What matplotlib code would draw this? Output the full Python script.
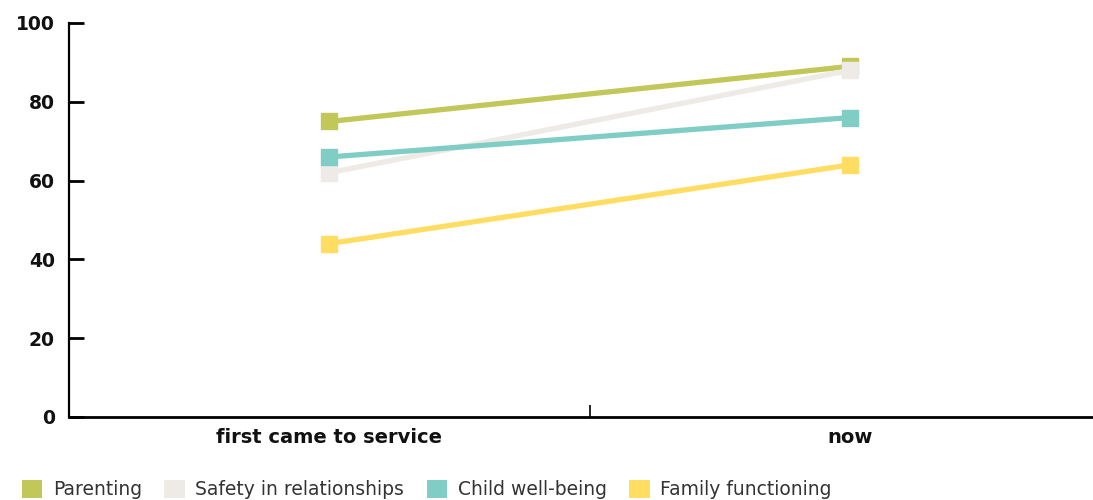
import matplotlib
matplotlib.use("Agg")
import matplotlib.pyplot as plt
from matplotlib.patches import Patch

# dados
periodos = ["first came to service", "now"]
series = ["Parenting", "Safety in relationships", "Child well-being", "Family functioning"]
parenting = [75, 89]
safety = [62, 88]
child = [66, 76]
family = [44, 64]
cores = ["#c2c75a", "#eeeae6", "#80cdc5", "#ffdd63"]

plt.rcParams["font.family"] = ["DejaVu Sans"]

fig = plt.figure(figsize=(10.93, 5), dpi=100)
# o eixo passa da borda direita da figura (como no original)
ax = fig.add_axes([0.063, 0.166, 0.953, 0.788])

x = list(range(len(periodos)))
valores = [parenting, safety, child, family]
# ordem de desenho: safety por baixo das outras
ordem = [1, 3, 2, 0]
for i in ordem:
    ax.plot(x, valores[i], color=cores[i], linewidth=3.8, marker="s",
            markersize=11.5, solid_capstyle="butt", zorder=3 + i)

ax.set_xlim(-0.5, 1.5)
ax.set_ylim(0, 100)
ax.set_yticks([0, 20, 40, 60, 80, 100])
ax.set_xticks(x)
ax.set_xticklabels(periodos)
ax.set_xticks([0.5], minor=True)

ax.spines["top"].set_visible(False)
ax.spines["right"].set_visible(False)
ax.spines["left"].set_linewidth(1.6)
ax.spines["bottom"].set_linewidth(2)

ax.tick_params(axis="y", direction="in", length=11, width=2, pad=10,
               labelsize=13.5)
ax.tick_params(axis="x", which="major", length=0, pad=8, labelsize=14)
ax.tick_params(axis="x", which="minor", direction="in", length=9, width=1.2)
for lbl in ax.get_xticklabels() + ax.get_yticklabels():
    lbl.set_fontweight("bold")
    lbl.set_color("#111111")

handles = [Patch(facecolor=c, edgecolor="none") for c in cores]
fig.legend(handles, series, loc="upper left", bbox_to_anchor=(0.02, 0.04),
           ncol=4, frameon=False, fontsize=13.5, handlelength=1.1,
           handleheight=1.1, handletextpad=0.55, columnspacing=1.2,
           borderpad=0, borderaxespad=0, labelcolor="#333333")

fig.savefig("out.png", dpi=100)
